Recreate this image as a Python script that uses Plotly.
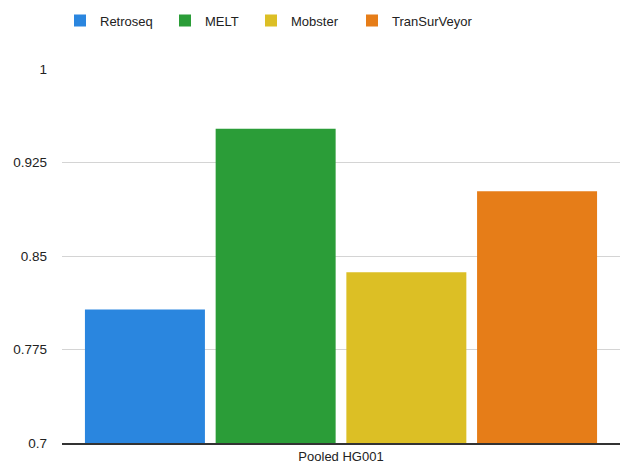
import plotly.graph_objects as go

categories = ["Pooled HG001"]
tools = ["Retroseq", "MELT", "Mobster", "TranSurVeyor"]
values = [0.807, 0.952, 0.837, 0.902]
colors = ["#2a86df", "#2b9d38", "#dcbf25", "#e67d18"]
tick_vals = [0.7, 0.775, 0.85, 0.925, 1]
tick_text = ["0.7", "0.775", "0.85", "0.925", "1"]

legend_ids = ["legend", "legend2", "legend3", "legend4"]
legend_left_px = [60, 165, 251, 352]

fig = go.Figure()
for name, v, c, lg in zip(tools, values, colors, legend_ids):
    fig.add_trace(go.Bar(x=categories, y=[v], name=name, legend=lg,
                         marker=dict(color=c, line=dict(width=0))))

legend_common = dict(orientation="h", xref="container", yref="container",
                     y=0.988, yanchor="top", xanchor="left",
                     font=dict(size=13), itemwidth=30, bgcolor="rgba(0,0,0,0)")
layout_legends = {}
for lg, px in zip(legend_ids, legend_left_px):
    layout_legends[lg] = dict(x=px / 620, **legend_common)

fig.update_layout(
    width=620, height=465,
    margin=dict(l=62, r=0, t=69, b=22),
    paper_bgcolor="white", plot_bgcolor="white",
    font=dict(family="Liberation Sans, Arial, sans-serif", size=13, color="#222222"),
    barmode="group", bargap=0.063, bargroupgap=0.082,
    showlegend=True,
    **layout_legends,
)
fig.update_yaxes(range=[0.7, 1], tickvals=tick_vals, ticktext=tick_text, showgrid=True,
                 gridcolor="#d4d4d4", gridwidth=1, zeroline=False, showline=False,
                 ticks="", ticklabelstandoff=14, tickfont=dict(size=13.5))
fig.update_xaxes(showline=True, linecolor="#333333", linewidth=2, ticks="", showgrid=False)
fig.write_html("out.html")
